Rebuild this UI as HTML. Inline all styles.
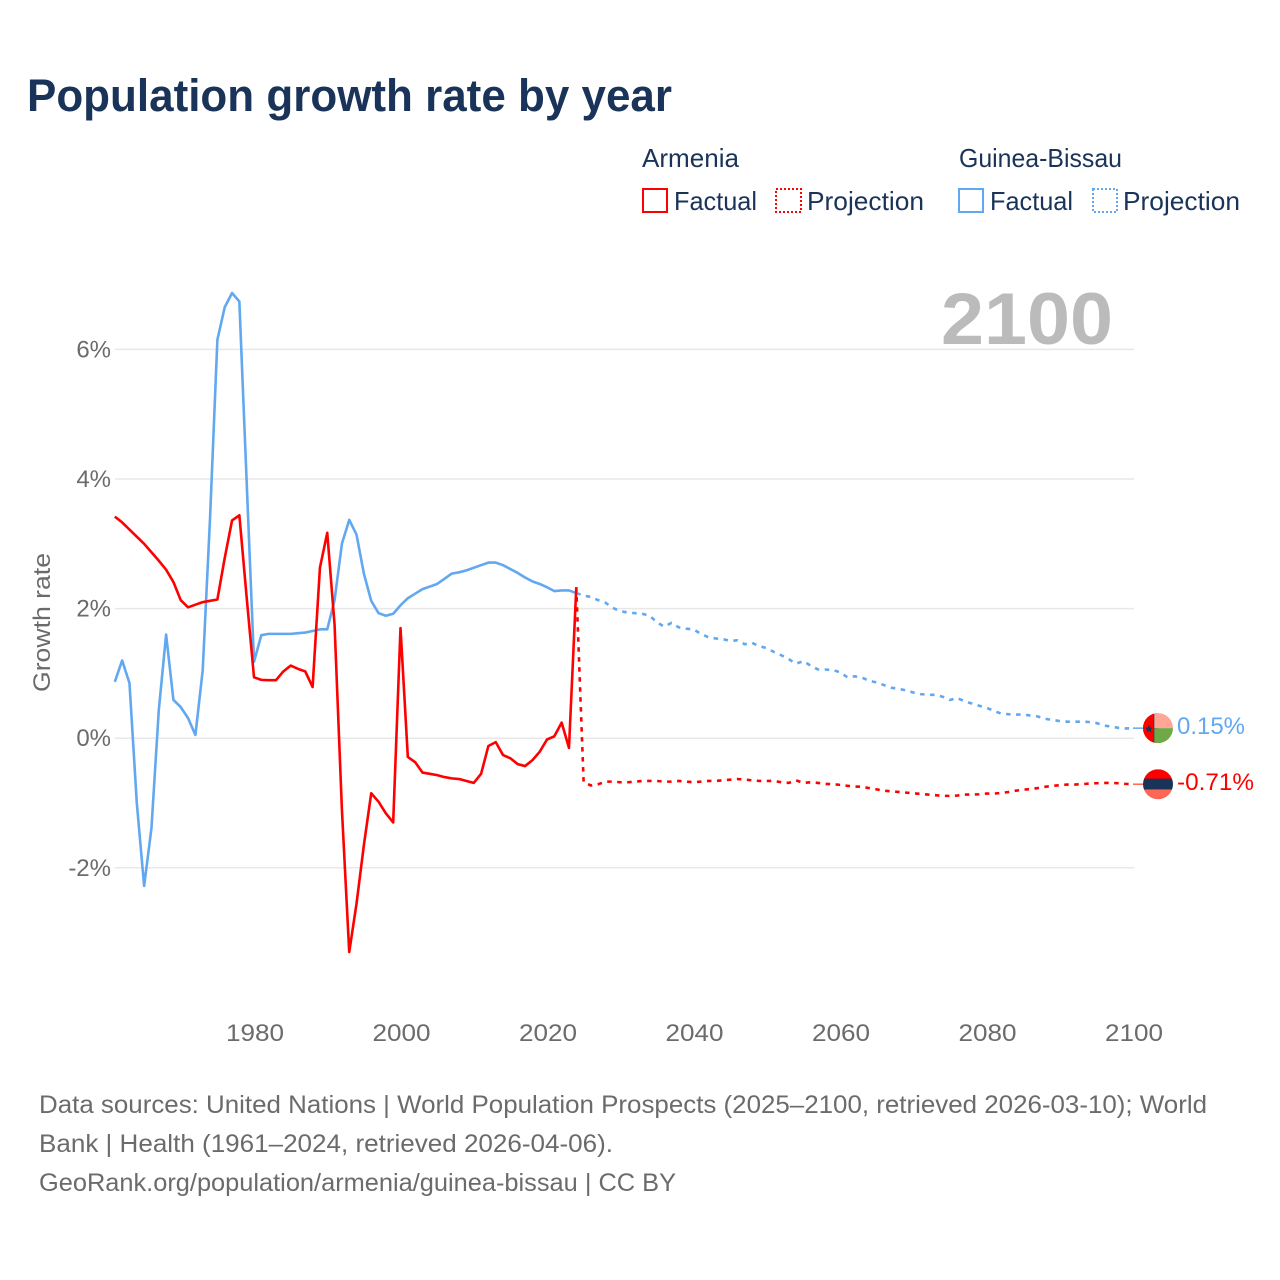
<!DOCTYPE html>
<html lang="en">
<head>
<meta charset="utf-8">
<title>Population growth rate by year</title>
<style>
html,body{margin:0;padding:0;background:#fff;width:1280px;height:1280px;overflow:hidden}
svg{display:block}
text{font-family:"Liberation Sans",sans-serif}
</style>
</head>
<body>
<svg id="chart" xmlns="http://www.w3.org/2000/svg" width="1280" height="1280" viewBox="0 0 1280 1280">
  <rect width="1280" height="1280" fill="#fff"/>
  <text x="27" y="111" font-size="45" font-weight="700" fill="#1a3358" textLength="645" lengthAdjust="spacingAndGlyphs">Population growth rate by year</text>

  <g font-size="26" fill="#1a3358">
    <text x="642" y="167" textLength="97" lengthAdjust="spacingAndGlyphs">Armenia</text>
    <rect x="643" y="189" width="24" height="23" fill="none" stroke="#ff0000" stroke-width="2"/>
    <text x="674" y="210" textLength="83" lengthAdjust="spacingAndGlyphs">Factual</text>
    <rect x="776" y="189" width="25" height="23" fill="none" stroke="#ff0000" stroke-width="2" stroke-dasharray="2 2"/>
    <text x="807" y="210" textLength="117" lengthAdjust="spacingAndGlyphs">Projection</text>
    <text x="959" y="167" textLength="163" lengthAdjust="spacingAndGlyphs">Guinea-Bissau</text>
    <rect x="959" y="189" width="24" height="23" fill="none" stroke="#62a8f0" stroke-width="2"/>
    <text x="990" y="210" textLength="83" lengthAdjust="spacingAndGlyphs">Factual</text>
    <rect x="1093" y="189" width="24" height="23" fill="none" stroke="#62a8f0" stroke-width="2" stroke-dasharray="2 2"/>
    <text x="1123" y="210" textLength="117" lengthAdjust="spacingAndGlyphs">Projection</text>
  </g>

  <g id="grid"></g>
  <text x="941" y="344" font-size="73" font-weight="700" fill="#bbbbbb" textLength="172" lengthAdjust="spacingAndGlyphs">2100</text>
  <g id="yticks" font-size="24" fill="#6b6b6b" text-anchor="end"></g>
  <g id="xticks" font-size="24" fill="#6b6b6b" text-anchor="middle"></g>
  <text transform="translate(50,692) rotate(-90)" font-size="24" fill="#6b6b6b" textLength="139" lengthAdjust="spacingAndGlyphs">Growth rate</text>
  <g id="series" fill="none" stroke-width="2.6" stroke-linejoin="round"></g>

  <defs>
    <clipPath id="flag-clip"><circle cx="0" cy="0" r="15"/></clipPath>
  </defs>
  <g id="flag-gw">
    <g clip-path="url(#flag-clip)">
      <rect x="-15" y="-15" width="15" height="30" fill="#ff0000"/>
      <rect x="-4" y="-15" width="19" height="15" fill="#ffa697"/>
      <rect x="-4" y="0" width="19" height="15" fill="#70a845"/>
      <rect x="-15" y="-15" width="11" height="30" fill="#ff0000"/>
      <rect x="-4.5" y="-15" width="1" height="30" fill="#1a3358" opacity=".6"/>
      <polygon points="-9,-3.5 -7.8,-0.5 -5,-0.5 -7.2,1.4 -6.3,4.4 -9,2.6 -11.7,4.4 -10.8,1.4 -13,-0.5 -10.2,-0.5" fill="#1a3358"/>
    </g>
  </g>
  <g id="flag-am">
    <g clip-path="url(#flag-clip)">
      <rect x="-15" y="-15" width="30" height="10" fill="#ff0000"/>
      <rect x="-15" y="-5.5" width="30" height="11" fill="#1a3358"/>
      <rect x="-15" y="5.5" width="30" height="10" fill="#ff6655"/>
    </g>
  </g>
  <g id="endlabels" font-size="24"></g>

  <g font-size="25" fill="#6b6b6b">
    <text x="39" y="1113" textLength="1168" lengthAdjust="spacingAndGlyphs">Data sources: United Nations | World Population Prospects (2025–2100, retrieved 2026-03-10); World</text>
    <text x="39" y="1152" textLength="574" lengthAdjust="spacingAndGlyphs">Bank | Health (1961–2024, retrieved 2026-04-06).</text>
    <text x="39" y="1191" textLength="637" lengthAdjust="spacingAndGlyphs">GeoRank.org/population/armenia/guinea-bissau | CC BY</text>
  </g>
</svg>
<script>
const factualStartYear = 1961;
const projectionStartYear = 2024;
const xTickYears = [1980, 2000, 2020, 2040, 2060, 2080, 2100];
const yTickValues = [-2, 0, 2, 4, 6];
const armeniaFactual = [3.42,3.33,3.22,3.11,3.0,2.87,2.74,2.6,2.41,2.13,2.02,2.06,2.1,2.12,2.14,2.78,3.36,3.44,2.17,0.94,
  0.9,0.895,0.895,1.03,1.12,1.07,1.03,0.79,2.63,3.17,1.75,-1.1,-3.3,-2.55,-1.65,-0.85,-0.98,-1.16,-1.3,1.7,
  -0.29,-0.37,-0.53,-0.55,-0.57,-0.6,-0.62,-0.63,-0.66,-0.69,-0.55,-0.12,-0.06,-0.26,-0.31,-0.4,-0.43,-0.34,-0.21,-0.02,
  0.03,0.24,-0.15,2.33];
const guineaBissauFactual = [0.87,1.2,0.85,-1.0,-2.28,-1.39,0.43,1.6,0.59,0.48,0.31,0.05,1.05,3.4,6.15,6.65,6.87,6.74,3.95,1.18,
  1.59,1.61,1.61,1.61,1.61,1.62,1.63,1.655,1.68,1.68,2.13,3.0,3.37,3.14,2.54,2.12,1.93,1.89,1.92,2.05,
  2.16,2.23,2.3,2.34,2.38,2.46,2.54,2.56,2.59,2.63,2.67,2.71,2.71,2.67,2.61,2.55,2.48,2.42,2.38,2.33,
  2.27,2.28,2.28,2.24];
const armeniaProjection = [2.33,-0.68,-0.73,-0.71,-0.67,-0.67,-0.68,-0.68,-0.67,-0.66,-0.66,-0.66,-0.67,-0.67,-0.66,-0.67,-0.68,
  -0.67,-0.66,-0.66,-0.65,-0.64,-0.63,-0.64,-0.65,-0.66,-0.66,-0.66,-0.68,-0.69,-0.65,-0.69,-0.68,-0.69,-0.705,-0.71,
  -0.72,-0.735,-0.745,-0.75,-0.77,-0.79,-0.81,-0.82,-0.83,-0.84,-0.85,-0.86,-0.87,-0.88,-0.89,-0.89,-0.885,-0.87,-0.87,-0.865,
  -0.855,-0.855,-0.845,-0.83,-0.81,-0.795,-0.785,-0.77,-0.75,-0.735,-0.725,-0.715,-0.715,-0.71,-0.70,-0.695,-0.69,-0.69,-0.695,-0.705,-0.71];
const guineaBissauProjection = [2.24,2.2,2.18,2.13,2.09,2.01,1.96,1.94,1.93,1.92,1.89,1.79,1.72,1.78,1.71,1.69,1.68,
  1.61,1.56,1.54,1.53,1.5,1.51,1.45,1.47,1.42,1.39,1.33,1.28,1.22,1.15,1.19,1.12,1.06,1.06,1.05,
  1.02,0.94,0.955,0.935,0.885,0.86,0.82,0.78,0.76,0.74,0.705,0.68,0.67,0.67,0.64,0.59,0.62,0.57,0.535,0.5,
  0.47,0.42,0.38,0.37,0.365,0.365,0.35,0.335,0.3,0.28,0.265,0.255,0.255,0.255,0.25,0.235,0.195,0.18,0.16,0.15,0.155];
const endLabels = ["0.15%", "-0.71%"];

const SVGNS = "http://www.w3.org/2000/svg";
function xScale(year) { return 254 + (year - 1980) * 7.325; }
function yScale(value) { return 738.2 - value * 64.8; }
function linePath(startYear, values) {
  return values.map(function (v, i) {
    return (i ? "L" : "M") + xScale(startYear + i).toFixed(2) + " " + yScale(v).toFixed(2);
  }).join("");
}
function formatPct(v) { return v + "%"; }

const gridG = document.getElementById("grid");
const yG = document.getElementById("yticks");
yTickValues.forEach(function (v) {
  const ln = document.createElementNS(SVGNS, "line");
  
  
  ln.setAttribute("x1", 115);
  ln.setAttribute("x2", 1134);
  ln.setAttribute("y1", yScale(v));
  ln.setAttribute("y2", yScale(v));
  ln.setAttribute("stroke", "#e8e8e8");
  ln.setAttribute("stroke-width", "1.5");
  gridG.appendChild(ln);
  const t = document.createElementNS(SVGNS, "text");
  
  
  t.setAttribute("x", 111);
  t.setAttribute("y", yScale(v) + 8);
  t.textContent = formatPct(v);
  yG.appendChild(t);
});

const xG = document.getElementById("xticks");
xTickYears.forEach(function (yr) {
  const t = document.createElementNS(SVGNS, "text");
  
  
  t.setAttribute("x", xScale(yr) + 1);
  t.setAttribute("y", 1041);
  t.setAttribute("textLength", "58");
  t.setAttribute("lengthAdjust", "spacingAndGlyphs");
  t.textContent = yr;
  xG.appendChild(t);
});

const seriesG = document.getElementById("series");
function addLine(name, startYear, values, colour, dash) {
  const p = document.createElementNS(SVGNS, "path");
  
  
  p.setAttribute("d", linePath(startYear, values));
  p.setAttribute("stroke", colour);
  if (dash) p.setAttribute("stroke-dasharray", dash);
  seriesG.appendChild(p);
}
addLine("guinea-bissau-factual-line", factualStartYear, guineaBissauFactual, "#62a8f0", "");
addLine("guinea-bissau-projection-line", projectionStartYear, guineaBissauProjection, "#62a8f0", "4.5 5.5");
addLine("armenia-factual-line", factualStartYear, armeniaFactual, "#ff0000", "");
addLine("armenia-projection-line", projectionStartYear, armeniaProjection, "#ff0000", "4.5 5.5");

const gwLast = guineaBissauProjection[guineaBissauProjection.length - 1];
const amLast = armeniaProjection[armeniaProjection.length - 1];
const lastYear = projectionStartYear + armeniaProjection.length - 1;
function addLeader(name, value, colour) {
  const ln = document.createElementNS(SVGNS, "line");
  
  
  ln.setAttribute("x1", xScale(lastYear));
  ln.setAttribute("x2", xScale(lastYear) + 15);
  ln.setAttribute("y1", yScale(value));
  ln.setAttribute("y2", yScale(value));
  ln.setAttribute("stroke", colour);
  ln.setAttribute("stroke-width", "1.5");
  seriesG.appendChild(ln);
}
addLeader("guinea-bissau-leader-line", gwLast, "#62a8f0");
addLeader("armenia-leader-line", amLast, "#ff6655");

document.getElementById("flag-gw").setAttribute("transform", "translate(" + (xScale(lastYear) + 25) + "," + yScale(gwLast) + ")");
document.getElementById("flag-am").setAttribute("transform", "translate(" + (xScale(lastYear) + 25) + "," + yScale(amLast) + ")");

const endG = document.getElementById("endlabels");
const gwLabel = document.createElementNS(SVGNS, "text");


gwLabel.setAttribute("x", 1177);
gwLabel.setAttribute("y", yScale(gwLast) + 6);
gwLabel.setAttribute("fill", "#62a8f0");
gwLabel.setAttribute("textLength", "68");
gwLabel.setAttribute("lengthAdjust", "spacingAndGlyphs");
gwLabel.textContent = endLabels[0];
endG.appendChild(gwLabel);
const amLabel = document.createElementNS(SVGNS, "text");


amLabel.setAttribute("x", 1177);
amLabel.setAttribute("y", yScale(amLast) + 6);
amLabel.setAttribute("fill", "#ff0000");
amLabel.setAttribute("textLength", "77");
amLabel.setAttribute("lengthAdjust", "spacingAndGlyphs");
amLabel.textContent = endLabels[1];
endG.appendChild(amLabel);
</script>
</body>
</html>
